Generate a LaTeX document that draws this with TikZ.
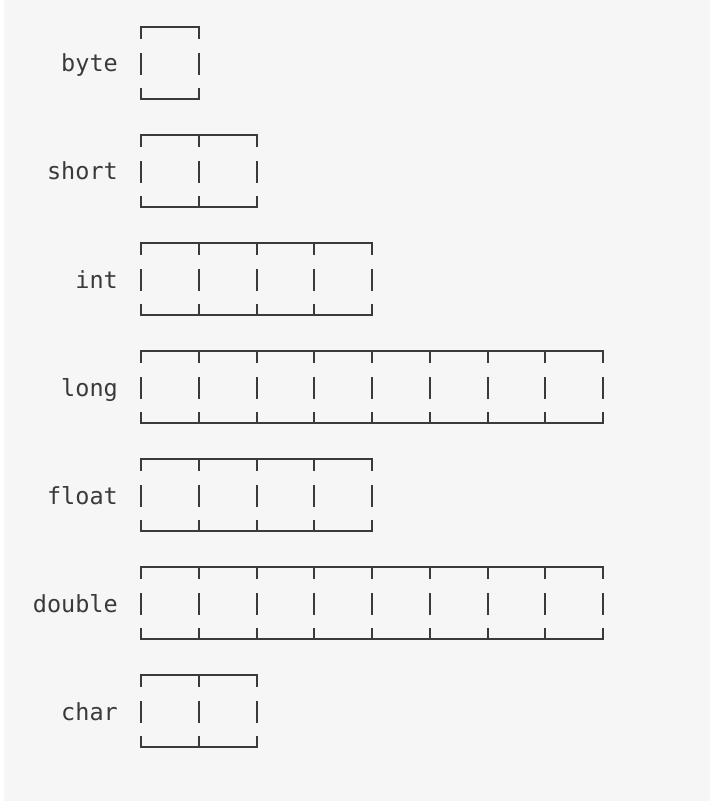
\documentclass[tikz,border=0pt]{standalone}
\usepackage{fontspec}
\setmonofont{DejaVu Sans Mono}
\usepackage{tikz}
\usetikzlibrary{positioning}
\definecolor{panelgray}{RGB}{246, 246, 246}
\definecolor{inkgray}{RGB}{58, 58, 58}

\begin{document}
\begin{tikzpicture}[
  x=1pt, y=-1pt,
  typename/.style={anchor=base east, inner sep=0pt, font=\ttfamily\fontsize{23.5}{28}\selectfont, text=inkgray},
  cellrule/.style={draw=inkgray, line width=2pt, line cap=rect, line join=miter}
]
  % background panel
  \fill[white] (0,0) rectangle (710,802);
  \fill[panelgray] (4,0) rectangle (710,801);
  \useasboundingbox (0,0) rectangle (710,802);

  % one row per type: name / bytes / row
  \foreach \tname/\nbytes/\row in {byte/1/0, short/2/1, int/4/2, long/8/3, float/4/4, double/8/5, char/2/6} {
    \pgfmathsetmacro{\rowtop}{27+108*\row}
    \pgfmathsetmacro{\rowend}{141+57.75*\nbytes}
    \node[typename] (\tname) at (118, {\rowtop+45}) {\tname};
    \draw[cellrule] (141, \rowtop) -- (\rowend, \rowtop);
    \draw[cellrule] (141, {\rowtop+72}) -- (\rowend, {\rowtop+72});
    \foreach \k in {0,...,\nbytes} {
      \draw[cellrule] ({141+57.75*\k}, \rowtop) -- ++(0,11);
      \draw[cellrule] ({141+57.75*\k}, {\rowtop+27}) -- ++(0,20);
      \draw[cellrule] ({141+57.75*\k}, {\rowtop+72}) -- ++(0,-10);
    }
  }
\end{tikzpicture}
\end{document}
